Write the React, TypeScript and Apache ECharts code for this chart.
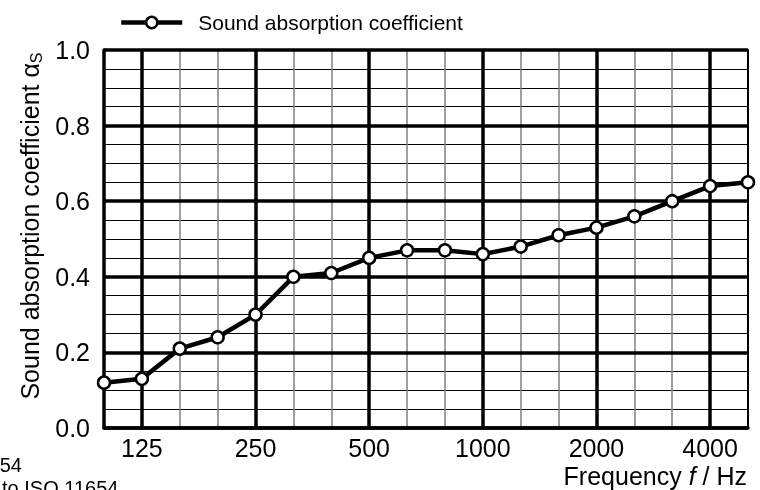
import React, { useEffect, useRef } from "react";
import * as echarts from "echarts";

const frequencies = ["100", "125", "160", "200", "250", "315", "400", "500", "630", "800", "1000", "1250", "1600", "2000", "2500", "3150", "4000", "5000"];
const absorption = [0.12, 0.13, 0.21, 0.24, 0.3, 0.4, 0.41, 0.45, 0.47, 0.47, 0.46, 0.48, 0.51, 0.53, 0.56, 0.6, 0.64, 0.65];
const octaveLabels = ["125", "250", "500", "1000", "2000", "4000"];
const yTicks = [0, 0.2, 0.4, 0.6, 0.8, 1.0];
const seriesName = "Sound absorption coefficient";

const FONT = "'Liberation Sans', Arial, sans-serif";

export default function App() {
  const ref = useRef<HTMLDivElement>(null);
  useEffect(() => {
    if (!ref.current) return;
    const chart = echarts.init(ref.current, null, { renderer: "svg" });
    chart.setOption({
      animation: false,
      textStyle: { fontFamily: FONT, color: "#000" },
      grid: { left: 104, right: 12, top: 50, bottom: 62 },
      legend: {
        left: 119,
        top: 12,
        padding: 0,
        itemWidth: 61,
        itemHeight: 14,
        data: [seriesName],
        lineStyle: { width: 4.5, color: "#000" },
        itemStyle: { color: "#fff", borderColor: "#000", borderWidth: 2.5 },
        textStyle: { fontFamily: FONT, fontSize: 21, color: "#000", padding: [0, 0, 0, 11] },
      },
      xAxis: [
        {
          type: "category",
          data: frequencies,
          boundaryGap: false,
          z: 1,
          axisLine: { show: true, lineStyle: { color: "#000", width: 3.5 } },
          axisTick: { show: false },
          axisLabel: {
            interval: (i: number, v: string) => octaveLabels.includes(v),
            fontFamily: FONT,
            fontSize: 25,
            color: "#000",
            margin: 7,
          },
          splitLine: { show: true, interval: 0, lineStyle: { color: "#808080", width: 1.5 } },
        },
        {
          type: "category",
          data: frequencies,
          boundaryGap: false,
          position: "bottom",
          z: 2,
          axisLine: { show: false },
          axisTick: { show: false },
          axisLabel: { show: false },
          splitLine: {
            show: true,
            interval: (i: number, v: string) => octaveLabels.includes(v),
            lineStyle: { color: "#000", width: 3.5 },
          },
        },
      ],
      yAxis: [
        {
          type: "value",
          min: 0,
          max: 1,
          interval: 0.05,
          z: 1,
          axisLine: { show: false },
          axisTick: { show: false },
          axisLabel: { show: false },
          splitLine: { show: true, lineStyle: { color: "#000", width: 1 } },
        },
        {
          type: "value",
          min: 0,
          max: 1,
          interval: 0.2,
          position: "left",
          z: 2,
          name: "Sound absorption coefficient α{s|S}",
          nameLocation: "middle",
          nameGap: 60,
          nameRotate: 90,
          nameTextStyle: {
            fontFamily: FONT,
            fontSize: 25,
            color: "#000",
            padding: [0, 0, 0, 26],
            rich: { s: { fontFamily: FONT, fontSize: 16, color: "#000", padding: [12, 0, 0, 0] } },
          },
          axisLine: { show: true, lineStyle: { color: "#000", width: 3.5 } },
          axisTick: { show: false },
          axisLabel: {
            fontFamily: FONT,
            fontSize: 25,
            color: "#000",
            margin: 14,
            formatter: (v: number) => (yTicks.some((t) => Math.abs(t - v) < 1e-6) ? v.toFixed(1) : ""),
          },
          splitLine: { show: true, lineStyle: { color: "#000", width: 3.5 } },
        },
        {
          type: "value",
          min: 0,
          max: 1,
          position: "right",
          z: 2,
          axisLine: { show: true, lineStyle: { color: "#000", width: 2 } },
          axisTick: { show: false },
          axisLabel: { show: false },
          splitLine: { show: false },
        },
      ],
      series: [
        {
          name: seriesName,
          type: "line",
          xAxisIndex: 0,
          yAxisIndex: 1,
          data: absorption,
          z: 5,
          symbol: "circle",
          symbolSize: 12,
          showAllSymbol: true,
          lineStyle: { color: "#000", width: 4.5 },
          itemStyle: { color: "#fff", borderColor: "#000", borderWidth: 2.5 },
        },
      ],
      graphic: [
        {
          type: "text",
          right: 13,
          top: 463,
          style: {
            text: "{n|Frequency }{i|f}{n| / Hz}",
            rich: {
              n: { fontFamily: FONT, fontSize: 25, fill: "#000" },
              i: { fontFamily: FONT, fontSize: 25, fontStyle: "italic", fill: "#000" },
            },
          },
        },
        {
          type: "text",
          x: 22,
          y: 455,
          style: { text: "54", fontFamily: FONT, fontSize: 20, fill: "#000", align: "right", verticalAlign: "top" },
        },
        {
          type: "text",
          x: 2,
          y: 478,
          style: { text: "to ISO 11654", fontFamily: FONT, fontSize: 20, fill: "#000", align: "left", verticalAlign: "top" },
        },
      ],
    });
    return () => chart.dispose();
  }, []);
  return <div ref={ref} style={{ width: 760, height: 490, position: "fixed", left: 0, top: 0 }} />;
}
